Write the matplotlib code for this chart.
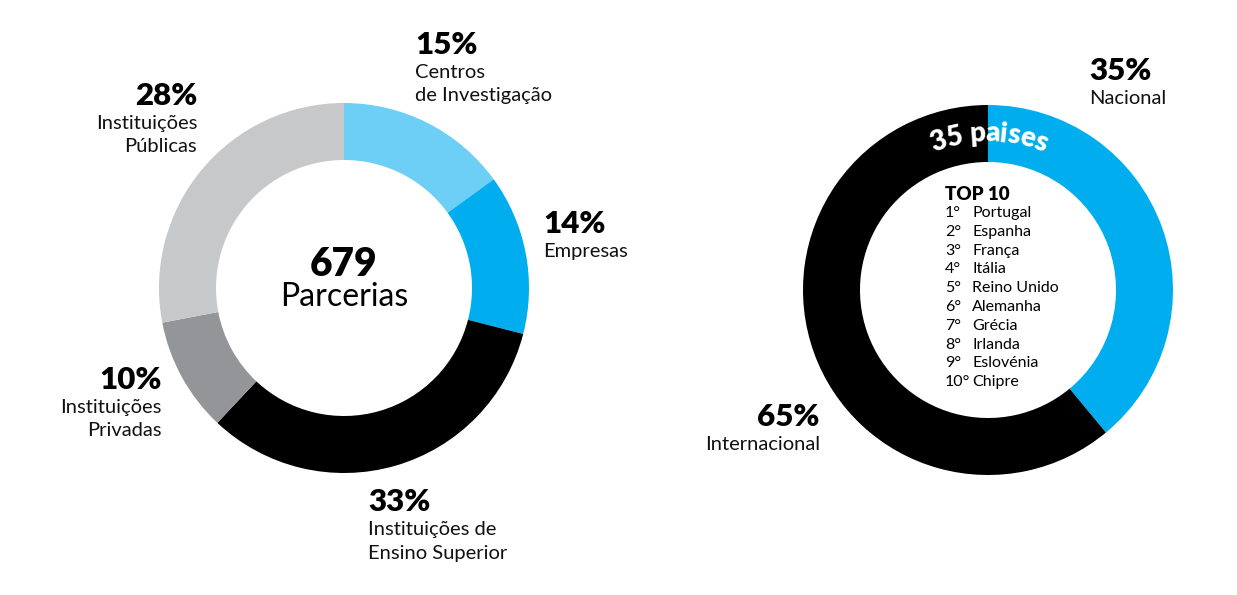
import numpy as np
import matplotlib
matplotlib.use("Agg")
import matplotlib.pyplot as plt
from matplotlib.textpath import TextPath
from matplotlib.font_manager import FontProperties

plt.rcParams["font.family"] = ["Lato", "DejaVu Sans"]

# ---- data ----
left_labels = ["Centros\nde Investigação", "Empresas", "Instituições de\nEnsino Superior",
               "Instituições\nPrivadas", "Instituições\nPúblicas"]
left_values = [15, 14, 33, 10, 28]
left_total = 679

right_labels = ["Nacional", "Internacional"]
right_values = [35, 65]
# the ring in the original is drawn a bit off the printed shares
right_drawn = [39, 61]
n_paises = 35

top10 = ["Portugal", "Espanha", "França", "Itália", "Reino Unido",
         "Alemanha", "Grécia", "Irlanda", "Eslovénia", "Chipre"]

# ---- palette ----
LBLUE = "#6DCFF6"
BLUE = "#00AEEF"
BLACK = "#000000"
DGRAY = "#939598"
LGRAY = "#C7C8CA"
INK = "#111111"

W, H = 1237, 595
fig = plt.figure(figsize=(W / 100, H / 100), dpi=100)
ax = fig.add_axes([0, 0, 1, 1])

R, WIDTH = 185, 57
CL = (344, H - 288)
CR = (988, H - 290)

ax.pie(left_values, center=CL, radius=R, startangle=90, counterclock=False,
       colors=[LBLUE, BLUE, BLACK, DGRAY, LGRAY],
       wedgeprops=dict(width=WIDTH, linewidth=0))
ax.pie(right_drawn, center=CR, radius=R, startangle=90, counterclock=False,
       colors=[BLUE, BLACK], wedgeprops=dict(width=WIDTH, linewidth=0))

ax.set_xlim(0, W)
ax.set_ylim(0, H)
ax.set_aspect("equal")
ax.set_axis_off()

PCT = 22.5
LAB = 14.5


def label(x, y, pct, text, ha):
    ax.text(x, H - y, f"{pct}%", ha=ha, va="center", fontsize=PCT,
            fontweight="heavy", color=BLACK)
    for i, line in enumerate(text.split("\n")):
        ax.text(x, H - (y + 27 + i * 24), line, ha=ha, va="center",
                fontsize=LAB, color=INK)


label(415, 45, left_values[0], left_labels[0], "left")
label(543, 224, left_values[1], left_labels[1], "left")
label(368, 502, left_values[2], left_labels[2], "left")
label(162, 380, left_values[3], left_labels[3], "right")
label(197, 96, left_values[4], left_labels[4], "right")

ax.text(CL[0], H - 264, str(left_total), ha="center", va="center",
        fontsize=28, fontweight="heavy", color=BLACK)
ax.text(CL[0], H - 297, "Parcerias", ha="center", va="center",
        fontsize=23, color=BLACK)

label(1089, 71, right_values[0], right_labels[0], "left")
label(820, 417, right_values[1], right_labels[1], "right")

# top 10 list
ax.text(945, H - 194, "TOP 10", ha="left", va="center", fontsize=13.5,
        fontweight="heavy", color=BLACK)
for i, name in enumerate(top10):
    y = H - (213 + i * 18.8)
    ax.text(945, y, f"{i + 1}°", ha="left", va="center", fontsize=11.5, color=BLACK)
    ax.text(972, y, name, ha="left", va="center", fontsize=11.5, color=BLACK)

# curved "35 paises" along the ring
arc_text = f"{n_paises} paises"
fs = 20
fp = FontProperties(family="Lato", weight="heavy", size=fs)
scale = 100 / 72
widths = []
for ch in arc_text:
    if ch == " ":
        widths.append(fs * 0.28 * scale)
    else:
        widths.append(TextPath((0, 0), ch, prop=fp).get_extents().width * scale + 2.0)
total = sum(widths)
r_mid = R - WIDTH / 2
center_ang = np.deg2rad(0.5)
start = center_ang - total / 2 / r_mid
pos = 0.0
for ch, w in zip(arc_text, widths):
    a = start + (pos + w / 2) / r_mid
    pos += w
    if ch == " ":
        continue
    x = CR[0] + r_mid * np.sin(a)
    y = CR[1] + r_mid * np.cos(a)
    ax.text(x, y, ch, ha="center", va="center", rotation=-np.rad2deg(a),
            rotation_mode="anchor", fontproperties=fp, color="white")

fig.savefig("out.png", dpi=100, facecolor="white")
